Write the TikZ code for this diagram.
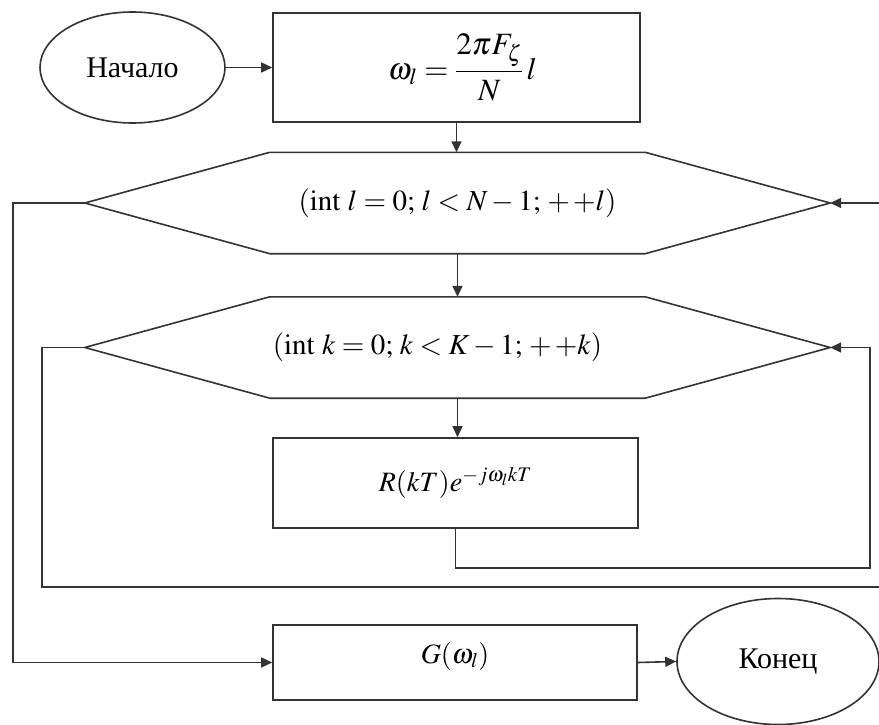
\documentclass[tikz,border=0pt]{standalone}
\usepackage{mathptmx}
\usepackage[no-math]{fontspec}
\setmainfont{Liberation Serif}
\newfontfamily\labelfont{Liberation Serif}
\usetikzlibrary{arrows.meta,shapes.geometric,calc}

\tikzset{
  line/.style={draw=black!80, line width=1.6pt},
  flow/.style={line, -{Triangle[length=11pt,width=10pt]}},
  term/.style={ellipse, line, inner sep=0pt, font=\labelfont\fontsize{30}{36}\selectfont},
  proc/.style={rectangle, line, inner sep=0pt, font=\fontsize{28}{34}\selectfont},
  loopbox/.style={rectangle, inner sep=0pt, minimum width=745pt, minimum height=101pt,
                  font=\fontsize{29}{34}\selectfont},
  hexline/.style={line, line join=miter}
}

\begin{document}
\begin{tikzpicture}[x=1pt, y=-1pt]
  \useasboundingbox (0,0) rectangle (879,725);
  \clip (0,0) rectangle (879,725);

  % terminals and blocks
  \node[term, minimum width=185pt, minimum height=111pt] (start) at (132.5,67.5) {Начало};
  \node[proc, minimum width=367pt, minimum height=109pt, font=\fontsize{31}{36}\selectfont] (init) at (456.5,67.5)
       {\hspace*{12pt}$\displaystyle\omega_l=\frac{2\pi F_{\zeta}}{N}\,l$};

  % outer loop header
  \node[loopbox] (loopl) at (457.5,203) {$(\mathrm{int}\ l=0;\,l<N-1;\,{+}\,{+}l)$};
  \draw[hexline] (loopl.west) -- ([xshift=185pt]loopl.north west) -- ([xshift=-185pt]loopl.north east)
     -- (loopl.east) -- ([xshift=-185pt]loopl.south east) -- ([xshift=185pt]loopl.south west) -- cycle;

  % inner loop header
  \node[loopbox] (loopk) at (457.5,347.5) {\hspace*{-40pt}$(\mathrm{int}\ k=0;\,k<K-1;\,{+}\,{+}k)$};
  \draw[hexline] (loopk.west) -- ([xshift=185pt]loopk.north west) -- ([xshift=-185pt]loopk.north east)
     -- (loopk.east) -- ([xshift=-185pt]loopk.south east) -- ([xshift=185pt]loopk.south west) -- cycle;

  \node[proc, minimum width=365pt, minimum height=90pt] (body) at (455.5,483)
       {$R(kT)e^{-j\omega_l kT}$};
  \node[proc, minimum width=364pt, minimum height=75pt] (result) at (455,662.5)
       {\raisebox{20pt}{$G(\omega_l)$}};
  \node[term, minimum width=202pt, minimum height=126pt] (stop) at (778,661.5) {Конец};

  % routing points
  \coordinate (innerback) at (870,568);
  \coordinate (outerback) at (900,587);
  \coordinate (exitx) at (13,0);
  \coordinate (innerx) at (42,587);

  % connectors
  \draw[flow] (start.east) -- (init.west |- start.east);
  \draw[flow] (init.south) -- (init.south |- loopl.north);
  \draw[flow] (loopl.south) -- (loopk.north);
  \draw[flow] (loopk.south) -- (loopk.south |- body.north);
  \draw[flow] (body.south) -- (body.south |- innerback) -- (innerback) -- (innerback |- loopk.east) -- (loopk.east);
  \draw[flow] (loopk.west) -- (innerx |- loopk.west) -- (innerx) -- (outerback) -- (outerback |- loopl.east) -- (loopl.east);
  \draw[flow] (loopl.west) -- (exitx |- loopl.west) -- (exitx |- result.west) -- (result.west);
  \draw[flow] (result.east) -- (stop.west);
\end{tikzpicture}
\end{document}
